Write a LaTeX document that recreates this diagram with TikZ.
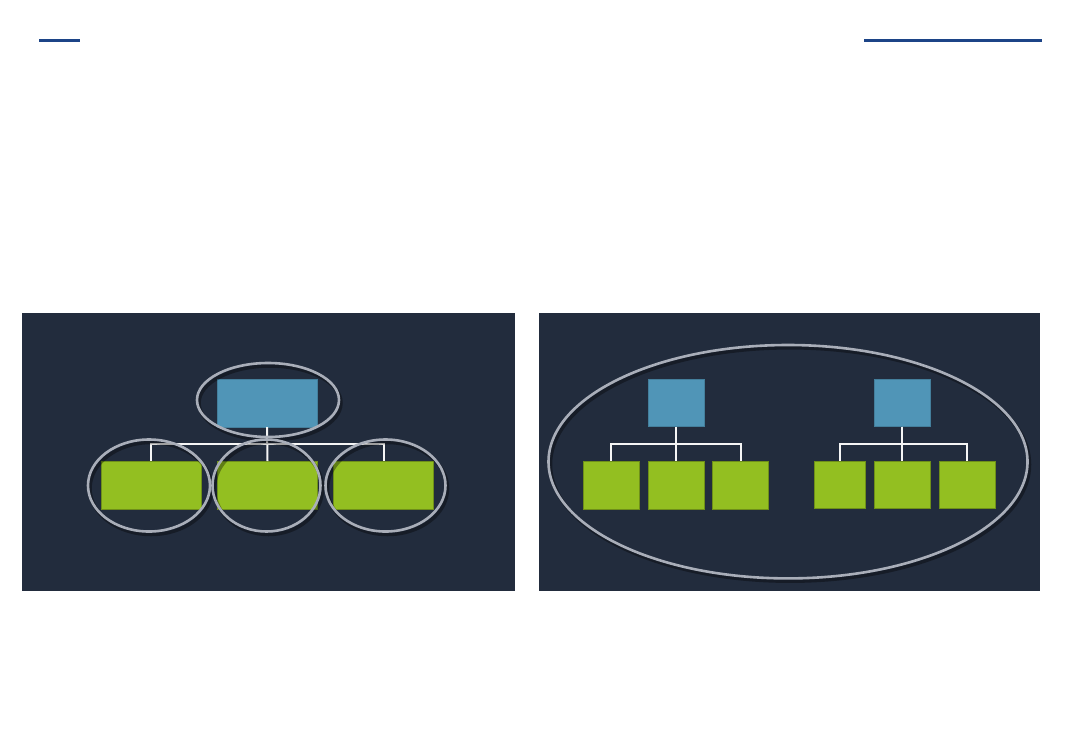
\documentclass[tikz,border=0pt]{standalone}
\usepackage{tikz}
\usetikzlibrary{positioning, calc}
\definecolor{bandblue}{HTML}{1C4487}
\definecolor{panelbg}{HTML}{222C3D}
\definecolor{bossblue}{HTML}{5095B7}
\definecolor{leafgreen}{HTML}{93BF21}
\definecolor{ringgray}{HTML}{A9AEB9}

\tikzset{
  boss/.style={draw=bossblue!85!black, line width=0.8pt, fill=bossblue, inner sep=0pt},
  leaf/.style={draw=leafgreen!75!black, line width=0.8pt, fill=leafgreen, inner sep=0pt},
  link/.style={draw=white!92!gray, line width=2pt},
  ring/.style={draw=ringgray, line width=2.6pt},
  ringshadow/.style={draw=black, line width=3.5pt, opacity=0.35}
}

\begin{document}
\begin{tikzpicture}[x=1pt, y=-1pt]
  \useasboundingbox[fill=white] (0,0) rectangle (1083,750);

  % Barras de titulo
  \fill[bandblue] (39,39) rectangle (80,42);
  \fill[bandblue] (864,39) rectangle (1042,42);

  % Paneles de fondo
  \fill[panelbg] (22,313) rectangle (515,591);
  \fill[panelbg] (539,313) rectangle (1040,591);

  % Panel izquierdo: un jefe y tres subordinados
  \node[boss, minimum width=100pt, minimum height=48pt] (jefe) at (267,403) {};
  \node[leaf, minimum width=100pt, minimum height=48pt] (hijoA) at (151,485.5) {};
  \node[leaf, minimum width=100pt, minimum height=48pt] (hijoB) at (267.5,485.5) {};
  \node[leaf, minimum width=100pt, minimum height=48pt] (hijoC) at (383.7,485.5) {};

  \draw[link] (jefe.south) -- ++(0,17) -| (hijoA.north);
  \draw[link] (jefe.south) -- ++(0,17) -| (hijoC.north);
  \draw[link] (jefe.south) -- (hijoB.north);

  % Elipses de agrupacion (con sombra)
  \foreach \cx/\cy/\rx/\ry in {268/400/71/37, 149/485.5/61/46, 266.5/485.5/54/46, 385.5/485.5/60/46} {
    \draw[ringshadow] (\cx+2,\cy+3) ellipse ({\rx} and {\ry});
    \draw[ring] (\cx,\cy) ellipse ({\rx} and {\ry});
  }

  % Panel derecho: dos equipos dentro de una sola elipse
  \node[boss, minimum width=56pt, minimum height=47pt] (jefeA) at (676.2,403) {};
  \node[leaf, minimum width=56pt, minimum height=48pt] (equipoA1) at (611.3,485.5) {};
  \node[leaf, minimum width=56pt, minimum height=48pt] (equipoA2) at (676.2,485.5) {};
  \node[leaf, minimum width=56pt, minimum height=48pt] (equipoA3) at (740.7,485.5) {};

  \node[boss, minimum width=56pt, minimum height=47pt] (jefeB) at (902.2,402.7) {};
  \node[leaf, minimum width=51pt, minimum height=47pt] (equipoB1) at (839.7,484.7) {};
  \node[leaf, minimum width=56pt, minimum height=47pt] (equipoB2) at (902.2,484.7) {};
  \node[leaf, minimum width=56pt, minimum height=47pt] (equipoB3) at (966.9,484.7) {};

  \draw[link] (jefeA.south) -- ++(0,17) -| (equipoA1.north);
  \draw[link] (jefeA.south) -- ++(0,17) -| (equipoA3.north);
  \draw[link] (jefeA.south) -- (equipoA2.north);
  \draw[link] (jefeB.south) -- ++(0,17) -| (equipoB1.north);
  \draw[link] (jefeB.south) -- ++(0,17) -| (equipoB3.north);
  \draw[link] (jefeB.south) -- (equipoB2.north);

  \draw[ringshadow] (790,464.5) ellipse (239.5 and 116.7);
  \draw[ring] (788,461.7) ellipse (239.5 and 116.7);
\end{tikzpicture}
\end{document}
